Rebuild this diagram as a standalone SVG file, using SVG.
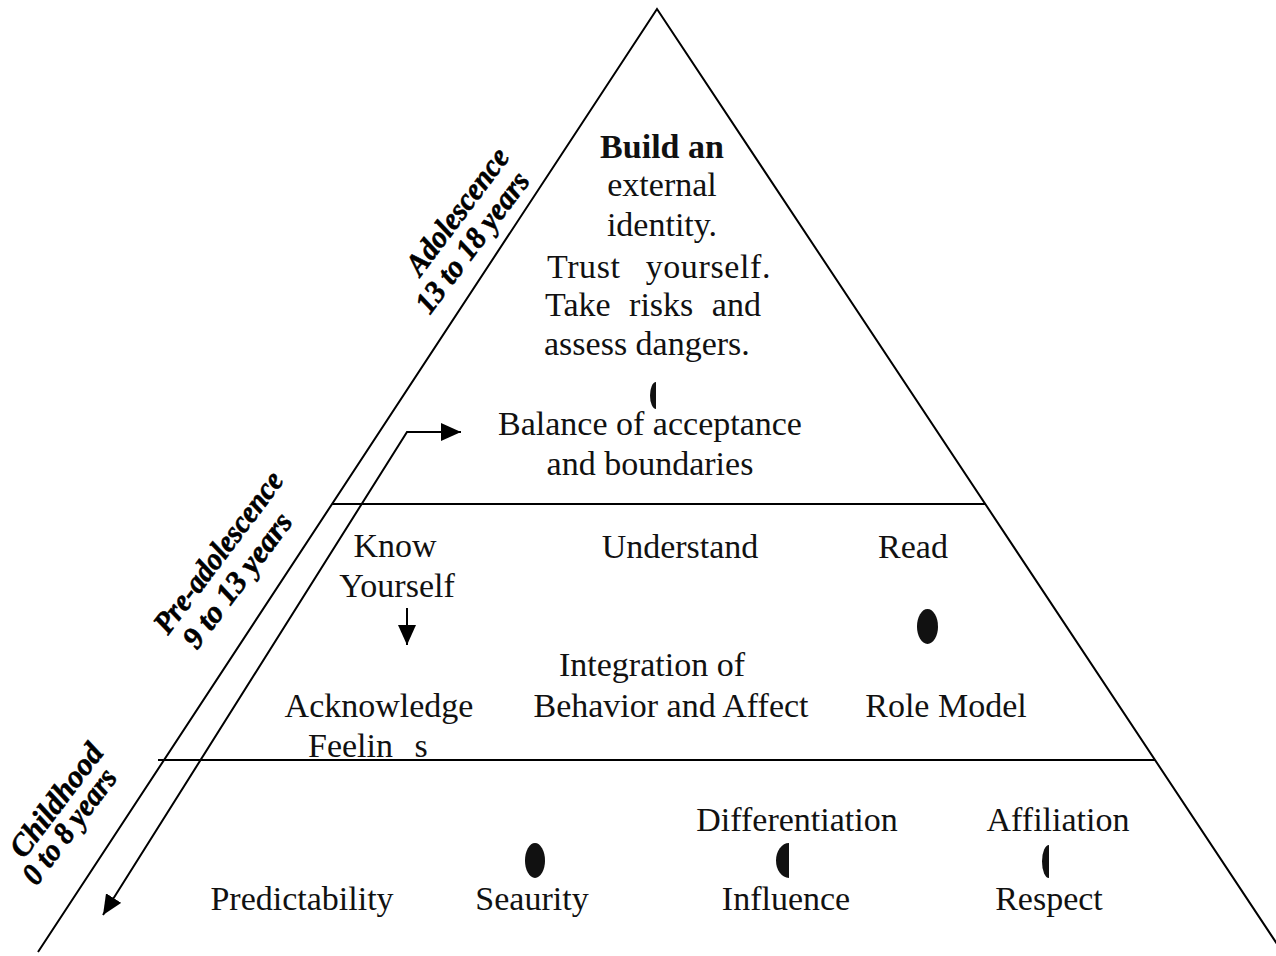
<svg xmlns="http://www.w3.org/2000/svg" width="1276" height="956" viewBox="0 0 1276 956">
  <style>
    .edge { fill: none; stroke: #000; stroke-width: 2; }
    .lbl { font-family: "Liberation Serif", "Times New Roman", serif; font-size: 34px; fill: #111; text-anchor: middle; }
    .lbl-start { text-anchor: start; }
    .strong { font-weight: bold; }
    .age { font-family: "Liberation Serif", "Times New Roman", serif; font-size: 31px; font-weight: bold; font-style: italic; fill: #000; stroke: #000; stroke-width: 0.6; text-anchor: middle; dominant-baseline: central; }
    .dot { fill: #111; }
  </style>
  <defs>
    <marker id="head" viewBox="0 0 20 18" refX="20" refY="9" markerWidth="20" markerHeight="18" markerUnits="userSpaceOnUse" orient="auto-start-reverse">
      <path d="M0,0 L20,9 L0,18 Z" fill="#000"/>
    </marker>
  </defs>

  <rect width="1276" height="956" fill="#fff"/>

  <!-- pyramid outline and tier dividers -->
  <g id="pyramid" class="edge">
    <polyline points="38,952 657,9 1285,956"/>
    <line x1="332" y1="504" x2="985" y2="504"/>
    <line x1="158" y1="760" x2="1155" y2="760"/>
  </g>

  <!-- age bands along the left side -->
  <g id="band-adolescence">
    <text class="age" transform="rotate(-53 457 211)" x="457" y="211" textLength="150" lengthAdjust="spacingAndGlyphs">Adolescence</text>
    <text class="age" transform="rotate(-53 472 242)" x="472" y="242" textLength="168" lengthAdjust="spacingAndGlyphs">13 to 18 years</text>
  </g>
  <g id="band-preadolescence">
    <text class="age" transform="rotate(-53 218 552)" x="218" y="552" textLength="194" lengthAdjust="spacingAndGlyphs">Pre-adolescence</text>
    <text class="age" transform="rotate(-53 237 580)" x="237" y="580" textLength="161" lengthAdjust="spacingAndGlyphs">9 to 13 years</text>
  </g>
  <g id="band-childhood">
    <text class="age" transform="rotate(-53 56 800)" x="56" y="800" textLength="134" lengthAdjust="spacingAndGlyphs">Childhood</text>
    <text class="age" transform="rotate(-53 69 826)" x="69" y="826" textLength="136" lengthAdjust="spacingAndGlyphs">0 to 8 years</text>
  </g>

  <!-- top tier -->
  <g id="node-identity">
    <text class="lbl strong" x="662" y="158">Build an</text>
    <text class="lbl" x="662" y="196">external</text>
    <text class="lbl" x="662" y="236">identity.</text>
    <text class="lbl lbl-start" x="547" y="278" word-spacing="16" letter-spacing="0.6">Trust yourself.</text>
    <text class="lbl lbl-start" x="545" y="316" word-spacing="10">Take risks and</text>
    <text class="lbl lbl-start" x="544" y="355">assess dangers.</text>
  </g>
  <g id="node-balance">
    <path class="dot" d="M656,382 A6,13.5 0 0 0 656,409 Z"/>
    <text class="lbl" x="650" y="435">Balance of acceptance</text>
    <text class="lbl" x="650" y="475">and boundaries</text>
  </g>

  <!-- middle tier -->
  <g id="node-know">
    <text class="lbl" x="395" y="557">Know</text>
    <text class="lbl" x="397" y="597">Yourself</text>
  </g>
  <g id="node-understand">
    <text class="lbl" x="680" y="558">Understand</text>
  </g>
  <g id="node-read">
    <text class="lbl" x="913" y="558">Read</text>
  </g>
  <g id="node-acknowledge">
    <text class="lbl" x="379" y="717">Acknowledge</text>
    <text class="lbl lbl-start" x="308" y="757" word-spacing="13">Feelin s</text>
  </g>
  <g id="node-integration">
    <text class="lbl" x="652" y="676">Integration of</text>
    <text class="lbl" x="671" y="717">Behavior and Affect</text>
  </g>
  <g id="node-role">
    <ellipse class="dot" cx="927.5" cy="626.5" rx="10.5" ry="17.5"/>
    <text class="lbl" x="946" y="717">Role Model</text>
  </g>

  <!-- bottom tier -->
  <g id="node-predictability">
    <text class="lbl" x="302" y="910">Predictability</text>
  </g>
  <g id="node-security">
    <ellipse class="dot" cx="535" cy="860.5" rx="10" ry="17.5"/>
    <text class="lbl" x="532" y="910">Seaurity</text>
  </g>
  <g id="node-influence">
    <text class="lbl" x="797" y="831">Differentiation</text>
    <path class="dot" d="M789,843 A13,17.5 0 0 0 789,878 Z"/>
    <text class="lbl" x="786" y="910">Influence</text>
  </g>
  <g id="node-respect">
    <text class="lbl" x="1058" y="831">Affiliation</text>
    <path class="dot" d="M1049,845 A7,16.5 0 0 0 1049,878 Z"/>
    <text class="lbl" x="1049" y="910">Respect</text>
  </g>

  <!-- connectors -->
  <g id="connectors" class="edge">
    <path d="M103,915 L407,432 L461,432" marker-start="url(#head)" marker-end="url(#head)"/>
    <line x1="407" y1="608" x2="407" y2="645" marker-end="url(#head)"/>
  </g>
</svg>
